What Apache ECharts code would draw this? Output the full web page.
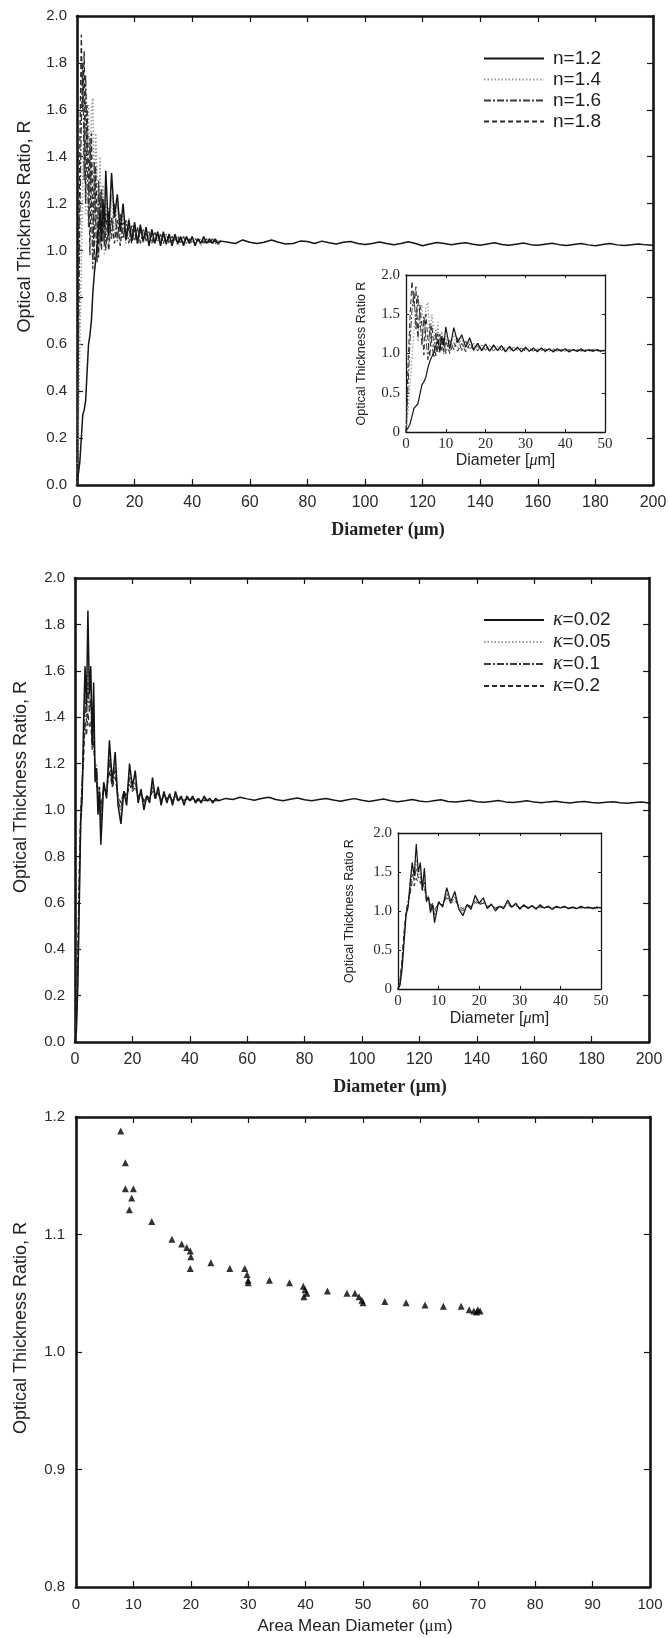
<!DOCTYPE html>
<html>
<head>
<meta charset="utf-8">
<script src="https://cdn.jsdelivr.net/npm/echarts@6/dist/echarts.min.js"></script>
<style>
  html, body { margin: 0; padding: 0; background: #fff; }
  #chart { width: 668px; height: 1638px; }
</style>
</head>
<body>
<div id="chart"></div>
<script>
// Diameters (µm) of the detailed 0–50 µm part of the ratio curves
const diam = [0,0.5,1,1.5,2,2.5,3,3.5,4,4.5,5,5.5,6,6.5,7,7.5,8,8.5,9,9.5,10,
  11,12,13,14,15,16,17,18,19,20,21,22,23,24,25,26,27,28,29,30,
  31,32,33,34,35,36,37,38,39,40,41,42,43,44,45,46,47,48,49,50];

// Optical thickness ratio for refractive index n (0–50 µm)
const ratioN12 = [0.02,0.05,0.10,0.20,0.30,0.32,0.36,0.48,0.60,0.64,0.70,0.82,0.90,0.96,1.02,1.10,1.16,1.04,1.22,1.10,1.34,
  1.06,1.33,1.14,1.24,1.08,1.20,1.05,1.13,1.04,1.12,1.03,1.11,1.04,1.10,1.02,1.09,1.03,1.08,1.02,1.08,
  1.03,1.07,1.02,1.07,1.03,1.06,1.02,1.06,1.03,1.06,1.02,1.05,1.03,1.06,1.03,1.05,1.03,1.05,1.03,1.04];
const ratioN14 = [0.00,0.25,0.60,0.95,1.30,1.55,1.15,1.45,1.62,1.25,1.60,1.65,1.15,1.50,1.30,0.98,1.40,1.08,1.28,0.98,1.22,
  1.02,1.24,1.06,1.20,1.04,1.16,1.03,1.14,1.05,1.12,1.04,1.10,1.03,1.09,1.04,1.09,1.03,1.08,1.04,1.07,
  1.02,1.07,1.03,1.06,1.02,1.06,1.03,1.05,1.03,1.06,1.03,1.05,1.02,1.05,1.03,1.05,1.03,1.05,1.02,1.04];
const ratioN16 = [0.00,0.55,1.15,1.55,1.80,1.30,1.75,1.45,1.10,1.48,1.20,0.92,1.38,1.12,0.95,1.30,1.02,1.26,1.04,1.20,1.00,
  1.18,1.05,1.20,1.04,1.16,1.05,1.13,1.03,1.11,1.04,1.10,1.03,1.09,1.04,1.08,1.03,1.08,1.04,1.07,1.03,
  1.07,1.03,1.06,1.04,1.06,1.03,1.06,1.03,1.05,1.03,1.05,1.04,1.05,1.03,1.05,1.03,1.05,1.03,1.04,1.04];
const ratioN18 = [0.00,0.85,1.45,1.92,1.60,1.85,1.20,1.62,1.35,0.98,1.50,1.18,0.96,1.36,1.10,0.97,1.25,1.00,1.20,1.02,1.16,
  1.00,1.14,1.03,1.13,1.02,1.12,1.04,1.10,1.03,1.09,1.03,1.09,1.04,1.08,1.03,1.07,1.03,1.07,1.04,1.06,
  1.03,1.06,1.04,1.06,1.03,1.05,1.03,1.05,1.04,1.05,1.03,1.05,1.03,1.04,1.03,1.04,1.03,1.04,1.03,1.04];

// Optical thickness ratio for absorption index kappa (0–50 µm)
const ratioK002 = [0.00,0.05,0.25,0.60,0.95,1.05,1.38,1.62,1.45,1.86,1.50,1.62,1.28,1.55,1.12,1.18,0.98,1.08,0.85,0.98,1.12,
  1.05,1.30,1.12,1.25,1.02,0.94,1.08,1.02,1.20,1.10,1.17,1.03,1.09,1.00,1.06,1.03,1.14,1.05,1.10,1.02,
  1.08,1.03,1.07,1.02,1.08,1.04,1.06,1.02,1.06,1.04,1.06,1.03,1.05,1.03,1.06,1.04,1.05,1.03,1.05,1.04];
const ratioK005 = [0.00,0.08,0.30,0.65,0.96,1.10,1.32,1.56,1.42,1.66,1.46,1.56,1.30,1.46,1.14,1.20,1.02,1.10,0.90,1.02,1.12,
  1.06,1.26,1.10,1.22,1.03,0.97,1.08,1.04,1.17,1.10,1.15,1.04,1.08,1.02,1.06,1.04,1.12,1.05,1.09,1.03,
  1.07,1.04,1.07,1.03,1.07,1.04,1.06,1.03,1.06,1.04,1.05,1.03,1.05,1.04,1.05,1.04,1.05,1.03,1.05,1.04];
const ratioK01 = [0.00,0.10,0.35,0.70,0.98,1.12,1.28,1.48,1.38,1.55,1.42,1.48,1.28,1.38,1.15,1.18,1.04,1.10,0.95,1.04,1.10,
  1.07,1.22,1.10,1.18,1.04,1.00,1.08,1.05,1.14,1.09,1.12,1.05,1.08,1.03,1.06,1.05,1.10,1.05,1.08,1.04,
  1.07,1.04,1.06,1.04,1.06,1.04,1.05,1.04,1.05,1.04,1.05,1.04,1.05,1.04,1.05,1.04,1.04,1.04,1.04,1.04];
const ratioK02 = [0.00,0.12,0.40,0.75,1.00,1.12,1.22,1.38,1.32,1.42,1.36,1.38,1.26,1.30,1.16,1.16,1.07,1.10,1.00,1.06,1.09,
  1.08,1.17,1.10,1.14,1.06,1.03,1.08,1.06,1.11,1.08,1.10,1.06,1.07,1.04,1.06,1.05,1.08,1.05,1.07,1.04,
  1.06,1.05,1.06,1.04,1.05,1.04,1.05,1.04,1.05,1.04,1.05,1.04,1.04,1.04,1.04,1.04,1.04,1.04,1.04,1.04];

// Large-particle tail (50–200 µm), where all curves coincide
const tailDiam = [52.5,55,57.5,60,62.5,65,67.5,70,72.5,75,77.5,80,82.5,85,87.5,90,92.5,95,97.5,100,
  102.5,105,107.5,110,112.5,115,117.5,120,122.5,125,127.5,130,132.5,135,137.5,140,142.5,145,147.5,150,
  152.5,155,157.5,160,162.5,165,167.5,170,172.5,175,177.5,180,182.5,185,187.5,190,192.5,195,197.5,200];
const tailRatioN = [1.035,1.030,1.045,1.035,1.030,1.035,1.045,1.035,1.028,1.030,1.040,1.038,1.030,1.040,1.033,1.028,1.035,1.038,1.030,1.026,
  1.030,1.036,1.030,1.025,1.030,1.037,1.030,1.020,1.028,1.034,1.030,1.025,1.030,1.033,1.027,1.022,1.028,1.033,1.026,1.022,
  1.027,1.032,1.025,1.022,1.027,1.031,1.025,1.021,1.026,1.030,1.024,1.020,1.026,1.030,1.024,1.021,1.025,1.028,1.024,1.022];
const tailRatioK = [1.050,1.045,1.055,1.048,1.042,1.050,1.055,1.045,1.040,1.046,1.052,1.044,1.040,1.045,1.050,1.043,1.038,1.044,1.049,1.042,
  1.037,1.042,1.047,1.040,1.036,1.040,1.045,1.039,1.035,1.040,1.044,1.037,1.034,1.038,1.042,1.036,1.033,1.037,1.041,1.035,
  1.032,1.036,1.040,1.034,1.031,1.035,1.038,1.033,1.030,1.034,1.037,1.032,1.030,1.033,1.036,1.031,1.029,1.032,1.034,1.030];

// Measured ratio against area mean diameter
const areaMeanDiam = [7.8,8.6,8.6,10.0,9.7,9.3,13.2,16.7,18.4,19.3,19.9,20.0,19.9,23.5,26.8,29.4,29.8,30.0,30.0,33.7,
  37.2,39.6,39.9,39.7,40.2,43.8,47.2,48.6,49.3,49.8,50.0,53.8,57.5,60.8,64.0,67.1,68.5,69.3,70.0,69.8,70.4];
const measuredR = [1.188,1.161,1.139,1.139,1.131,1.121,1.111,1.096,1.092,1.089,1.086,1.081,1.071,1.076,1.071,1.071,1.066,1.061,1.059,1.061,
  1.059,1.056,1.053,1.047,1.050,1.052,1.050,1.050,1.047,1.044,1.042,1.043,1.042,1.040,1.039,1.039,1.036,1.035,1.036,1.034,1.035];

const namesN = ['n=1.2', 'n=1.4', 'n=1.6', 'n=1.8'];
const namesK = ['κ=0.02', 'κ=0.05', 'κ=0.1', 'κ=0.2'];

// ---- helpers ----
function zip(xs, ys) { return xs.map((x, i) => [x, ys[i]]); }
function withTail(xs, ys, tx, ty) { return zip(xs, ys).concat(zip(tx, ty)); }

const INK = '#151515';
const LABEL = '#2a2a2a';
const SANS = '"Liberation Sans", Arial, sans-serif';
const SERIF = '"Liberation Serif", "Times New Roman", serif';

// Boxed frame: labelled bottom/left axes plus mirrored top/right ticks
function frame(gridIndex, cfg) {
  const line = { show: true, onZero: false, lineStyle: { color: INK, width: cfg.lineWidth } };
  const tick = { show: true, inside: true, length: cfg.tickLen, lineStyle: { color: INK, width: cfg.tickWidth } };
  const common = { type: 'value', gridIndex, axisLine: line, axisTick: tick, splitLine: { show: false } };
  const x = [
    Object.assign({}, common, {
      position: 'bottom', min: cfg.x.min, max: cfg.x.max, interval: cfg.x.step,
      axisLabel: cfg.x.label, name: cfg.x.name, nameLocation: 'middle',
      nameGap: cfg.x.nameGap, nameTextStyle: cfg.x.nameStyle
    }),
    Object.assign({}, common, {
      position: 'top', min: cfg.x.min, max: cfg.x.max, interval: cfg.x.step,
      axisLabel: { show: false }
    })
  ];
  const y = [
    Object.assign({}, common, {
      position: 'left', min: cfg.y.min, max: cfg.y.max, interval: cfg.y.step,
      axisLabel: cfg.y.label, name: cfg.y.name, nameLocation: 'middle',
      nameGap: cfg.y.nameGap, nameTextStyle: cfg.y.nameStyle
    }),
    Object.assign({}, common, {
      position: 'right', min: cfg.y.min, max: cfg.y.max, interval: cfg.y.step,
      axisLabel: { show: false }
    })
  ];
  return { x, y };
}

const mainLabelX = { fontFamily: SANS, fontSize: 16, color: LABEL, margin: 10 };
const oneDec = v => v.toFixed(1);
const mainLabelY = { fontFamily: SANS, fontSize: 15, color: LABEL, margin: 10, formatter: oneDec };
const insetFmtY = v => (v === 0 ? '0' : v.toFixed(1));
const insetLabelX = { fontFamily: SERIF, fontSize: 15, color: LABEL, margin: 5 };
const insetLabelY = { fontFamily: SERIF, fontSize: 15, color: LABEL, margin: 6, formatter: insetFmtY };
const yTitle = 'Optical Thickness Ratio, R';
const insetYTitle = 'Optical Thickness Ratio R';
const insetXStyle = {
  fontFamily: SANS, fontSize: 16, color: '#222',
  rich: { i: { fontFamily: SERIF, fontStyle: 'italic', fontSize: 16, color: '#222' } }
};

const mainCfg = (xName, xPad, yPad, yGap) => ({
  lineWidth: 2.6, tickLen: 6, tickWidth: 1.2,
  x: { min: 0, max: 200, step: 20, label: mainLabelX, name: xName, nameGap: 36,
       nameStyle: { fontFamily: SERIF, fontWeight: 'bold', fontSize: 18, color: '#222', padding: xPad } },
  y: { min: 0, max: 2, step: 0.2, label: mainLabelY, name: yTitle, nameGap: yGap,
       nameStyle: { fontFamily: SANS, fontSize: 18, color: '#222', padding: yPad } }
});
const insetCfg = (yGap, xGap) => ({
  lineWidth: 1.3, tickLen: 3, tickWidth: 1,
  x: { min: 0, max: 50, step: 10, label: insetLabelX, name: 'Diameter [{i|μ}m]', nameGap: xGap, nameStyle: insetXStyle },
  y: { min: 0, max: 2, step: 0.5, label: insetLabelY, name: insetYTitle, nameGap: yGap,
       nameStyle: { fontFamily: SANS, fontSize: 12.5, color: '#222' } }
});

const frames = [
  frame(0, mainCfg('Diameter (μm)', [0, 0, 0, 46], [0, 0, 0, 48], 43)),
  frame(1, insetCfg(38, 20)),
  frame(2, mainCfg('Diameter (μm)', [0, 0, 0, 56], [0, 0, 0, 46], 45)),
  frame(3, insetCfg(42, 22)),
  frame(4, {
    lineWidth: 2.6, tickLen: 6, tickWidth: 1.2,
    x: { min: 0, max: 100, step: 10, label: { fontFamily: SANS, fontSize: 15, color: LABEL, margin: 10 },
         name: 'Area Mean Diameter ({s|μm})', nameGap: 31,
         nameStyle: { fontFamily: SANS, fontSize: 17, color: '#222', padding: [0, 16, 0, 0],
                      rich: { s: { fontFamily: SERIF, fontSize: 17, color: '#222' } } } },
    y: { min: 0.8, max: 1.2, step: 0.1, label: { fontFamily: SANS, fontSize: 15, color: LABEL, margin: 11, formatter: oneDec },
         name: yTitle, nameGap: 46,
         nameStyle: { fontFamily: SANS, fontSize: 18, color: '#222', padding: [0, 0, 0, 48] } }
  })
];

const xAxis = [].concat(...frames.map(f => f.x));
const yAxis = [].concat(...frames.map(f => f.y));

// line looks shared by the n and kappa families (solid, dotted, dash-dot, dashed)
const looks = [
  { color: '#151515', type: 'solid', width: 1.5 },
  { color: '#9c9c9c', type: [1.5, 2], width: 1.6 },
  { color: '#3a3a3a', type: [7, 2, 2, 2], width: 1.3 },
  { color: '#2a2a2a', type: [5, 3], width: 1.3 }
];

function family(names, values, tail, mainGrid, insetGrid) {
  const out = [];
  // draw the lighter styles first so the solid curve stays on top
  [1, 2, 3, 0].forEach(k => {
    const look = looks[k];
    const common = {
      type: 'line', name: names[k], symbol: 'none', showSymbol: false,
      color: look.color, lineStyle: { color: look.color, type: look.type, width: look.width },
      animation: false, silent: true
    };
    out.push(Object.assign({}, common, {
      xAxisIndex: mainGrid * 2, yAxisIndex: mainGrid * 2,
      data: k === 0 ? withTail(diam, values[k], tailDiam, tail) : zip(diam, values[k])
    }));
    out.push(Object.assign({}, common, {
      xAxisIndex: insetGrid * 2, yAxisIndex: insetGrid * 2,
      lineStyle: { color: look.color, type: look.type, width: Math.max(1, look.width - 0.3) },
      data: zip(diam, values[k])
    }));
  });
  return out;
}

const series = []
  .concat(family(namesN, [ratioN12, ratioN14, ratioN16, ratioN18], tailRatioN, 0, 1))
  .concat(family(namesK, [ratioK002, ratioK005, ratioK01, ratioK02], tailRatioK, 2, 3))
  .concat([{
    type: 'scatter', name: 'measured', xAxisIndex: 8, yAxisIndex: 8,
    symbol: 'triangle', symbolSize: 7, itemStyle: { color: '#000' },
    data: zip(areaMeanDiam, measuredR), animation: false
  }]);

const legendText = { fontFamily: SANS, fontSize: 19, color: '#1e1e1e', padding: [0, 0, 0, 4] };
const legendBase = {
  orient: 'vertical', left: 478, itemWidth: 60, itemHeight: 12, itemGap: 2,
  selectedMode: false,
  // line-only keys: hide the marker drawn in the middle of each key
  itemStyle: { opacity: 0 }
};

const option = {
  backgroundColor: '#fff',
  animation: false,
  grid: [
    { left: 77, top: 16, width: 576, height: 469, outerBoundsMode: 'none' },
    { left: 406, top: 275, width: 199, height: 157, outerBoundsMode: 'none', show: true, backgroundColor: '#fff', borderWidth: 0 },
    { left: 75, top: 578, width: 574, height: 464, outerBoundsMode: 'none' },
    { left: 398, top: 833, width: 203, height: 156, outerBoundsMode: 'none', show: true, backgroundColor: '#fff', borderWidth: 0 },
    { left: 76, top: 1117, width: 574, height: 470, outerBoundsMode: 'none' }
  ],
  xAxis, yAxis,
  legend: [
    Object.assign({}, legendBase, {
      data: namesN, top: 44,
      textStyle: Object.assign({ lineHeight: 18 }, legendText)
    }),
    Object.assign({}, legendBase, {
      data: namesK, top: 605,
      formatter: name => '{k|κ}' + name.slice(1),
      textStyle: Object.assign({ lineHeight: 19,
        rich: { k: { fontFamily: SERIF, fontStyle: 'italic', fontSize: 20, color: '#1e1e1e' } } }, legendText)
    })
  ],
  series
};

const chart = echarts.init(document.getElementById('chart'));
chart.setOption(option);
</script>
</body>
</html>
